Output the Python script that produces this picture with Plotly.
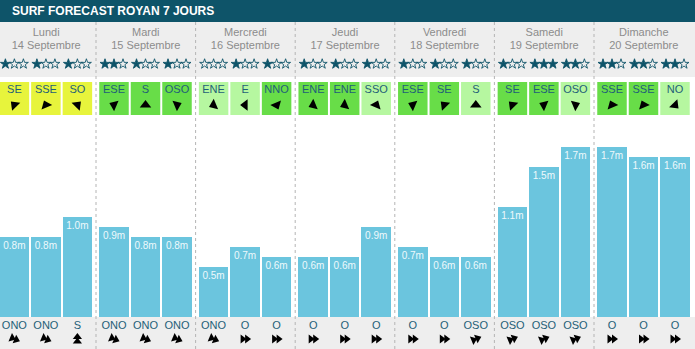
import math
import plotly.graph_objects as go

# ---------------- data ----------------
title = "SURF FORECAST ROYAN 7 JOURS"
days = ["Lundi", "Mardi", "Mercredi", "Jeudi", "Vendredi", "Samedi", "Dimanche"]
dates = ["14 Septembre", "15 Septembre", "16 Septembre", "17 Septembre",
         "18 Septembre", "19 Septembre", "20 Septembre"]
stars = [1, 1, 1, 2, 1, 1, 0, 1, 1, 1, 1, 1, 1, 1, 1, 1, 3, 2, 2, 2, 2]
wind_dir = ["SE", "SSE", "SO", "ESE", "S", "OSO", "ENE", "E", "NNO",
            "ENE", "ENE", "SSO", "ESE", "SE", "S", "SE", "ESE", "OSO",
            "SSE", "SSE", "NO"]
wind_level = [0, 0, 0, 2, 2, 2, 1, 1, 2, 2, 2, 1, 2, 2, 1, 2, 2, 1, 2, 2, 1]
wave_height = [0.8, 0.8, 1.0, 0.9, 0.8, 0.8, 0.5, 0.7, 0.6, 0.6, 0.6, 0.9,
               0.7, 0.6, 0.6, 1.1, 1.5, 1.7, 1.7, 1.6, 1.6]
swell_dir = ["ONO", "ONO", "S", "ONO", "ONO", "ONO", "ONO", "O", "O",
             "O", "O", "O", "O", "O", "OSO", "OSO", "OSO", "OSO",
             "O", "O", "O"]

# ---------------- styling / geometry ----------------
W, H = 695, 349
BASE_PX = 317          # pixel row of bar base
PX_PER_M = 100.0


def py(p):
    """pixel row -> y axis value (metres)"""
    return (BASE_PX - p) / PX_PER_M


DAY_W = 99.6
DAY0 = -3.6
SUB_OFF = 18.0
SUB_PITCH = 31.5
BAR_W = 29.5
STAR_STEP = 9.0

COMPASS = {"N": 0, "NNE": 22.5, "NE": 45, "ENE": 67.5, "E": 90, "ESE": 112.5,
           "SE": 135, "SSE": 157.5, "S": 180, "SSO": 202.5, "SO": 225,
           "OSO": 247.5, "O": 270, "ONO": 292.5, "NO": 315, "NNO": 337.5}
LEVEL_COL = ["#e7f43c", "#b6f7a0", "#68dd48"]
TEAL = "#0e5469"
TXT_TEAL = "#1f5f78"
BAR_COL = "#6bc5de"
GRAY_BG = "#eeeeee"
FONT = "Liberation Sans, Arial, sans-serif"

n = len(wave_height)
centers = [DAY0 + DAY_W * (i // 3) + SUB_OFF + SUB_PITCH * (i % 3) for i in range(n)]
day_centers = [DAY0 + DAY_W * k + DAY_W / 2 for k in range(len(days))]

fig = go.Figure()

shapes = []
shapes.append(dict(type="rect", xref="x", yref="y", x0=0, x1=W, y0=py(22), y1=py(0),
                   fillcolor=TEAL, line_width=0, layer="below"))
shapes.append(dict(type="rect", xref="x", yref="y", x0=0, x1=W, y0=py(77), y1=py(22),
                   fillcolor=GRAY_BG, line_width=0, layer="below"))
shapes.append(dict(type="rect", xref="x", yref="y", x0=0, x1=W, y0=py(349), y1=py(BASE_PX),
                   fillcolor=GRAY_BG, line_width=0, layer="below"))
for i in range(n):
    shapes.append(dict(type="rect", xref="x", yref="y",
                       x0=centers[i] - BAR_W / 2, x1=centers[i] + BAR_W / 2,
                       y0=py(115), y1=py(82),
                       fillcolor=LEVEL_COL[wind_level[i]], line_width=0, layer="below"))
for k in range(1, len(days)):
    xs = DAY0 + DAY_W * k
    shapes.append(dict(type="line", xref="x", yref="y", x0=xs, x1=xs,
                       y0=py(22), y1=py(349),
                       line=dict(color="#b4b4b4", width=1, dash="3px,3px"), layer="above"))

# bars
fig.add_trace(go.Bar(x=centers, y=wave_height, width=BAR_W, marker_color=BAR_COL,
                     marker_line_width=0, hoverinfo="skip"))

# bar labels
fig.add_trace(go.Scatter(x=centers, y=[h - 0.09 for h in wave_height], mode="text",
                         text=[f"{h:.1f}m" for h in wave_height],
                         textposition="middle center",
                         textfont=dict(family=FONT, size=10, color="#eef9fc"),
                         hoverinfo="skip", cliponaxis=False))

# day names and dates
fig.add_trace(go.Scatter(x=day_centers, y=[py(33)] * len(days), mode="text", text=days,
                         textposition="middle center",
                         textfont=dict(family=FONT, size=11, color="#8c8c8c"),
                         hoverinfo="skip", cliponaxis=False))
fig.add_trace(go.Scatter(x=day_centers, y=[py(46)] * len(days), mode="text", text=dates,
                         textposition="middle center",
                         textfont=dict(family=FONT, size=11, color="#8c8c8c"),
                         hoverinfo="skip", cliponaxis=False))

# stars (rating markers)
sx, sy, ssym = [], [], []
for i in range(n):
    for j in range(3):
        sx.append(centers[i] + (j - 1) * STAR_STEP)
        sy.append(py(64))
        ssym.append("star" if j < stars[i] else "star-open")
fig.add_trace(go.Scatter(x=sx, y=sy, mode="markers",
                         marker=dict(symbol=ssym, size=7.5, color=TEAL,
                                     line=dict(color=TEAL, width=0.9)),
                         hoverinfo="skip", cliponaxis=False))

# wind direction text + arrows
fig.add_trace(go.Scatter(x=centers, y=[py(90)] * n, mode="text", text=wind_dir,
                         textposition="middle center",
                         textfont=dict(family=FONT, size=11, color=TXT_TEAL),
                         hoverinfo="skip", cliponaxis=False))
fig.add_trace(go.Scatter(x=centers, y=[py(105)] * n, mode="markers",
                         marker=dict(symbol="triangle-up", size=10, color="black",
                                     angle=[(COMPASS[d] + 180) % 360 for d in wind_dir],
                                     line_width=0),
                         hoverinfo="skip", cliponaxis=False))

# swell direction text + arrows
fig.add_trace(go.Scatter(x=centers, y=[py(326)] * n, mode="text", text=swell_dir,
                         textposition="middle center",
                         textfont=dict(family=FONT, size=11, color=TXT_TEAL),
                         hoverinfo="skip", cliponaxis=False))
ang = [(COMPASS[d] + 180) % 360 for d in swell_dir]
for off in (-2.5, 2.0):
    xs = [c + off * math.sin(math.radians(a)) for c, a in zip(centers, ang)]
    ys = [py(339 - off * math.cos(math.radians(a))) for a in ang]
    fig.add_trace(go.Scatter(x=xs, y=ys, mode="markers",
                             marker=dict(symbol="triangle-up", size=8, color="black",
                                         angle=ang, line_width=0),
                             hoverinfo="skip", cliponaxis=False))

fig.update_layout(
    width=W, height=H, margin=dict(l=0, r=0, t=0, b=0),
    paper_bgcolor="white", plot_bgcolor="white", showlegend=False,
    shapes=shapes, bargap=0,
    xaxis=dict(range=[0, W], visible=False, fixedrange=True),
    yaxis=dict(range=[py(H), py(0)], visible=False, fixedrange=True),
    annotations=[dict(x=10, y=py(10.5), xref="x", yref="y", text=title,
                      showarrow=False, xanchor="left", yanchor="middle",
                      font=dict(family=FONT, size=12, color="white", weight="bold"))],
)

fig.write_html("out.html", config={"displayModeBar": False})
